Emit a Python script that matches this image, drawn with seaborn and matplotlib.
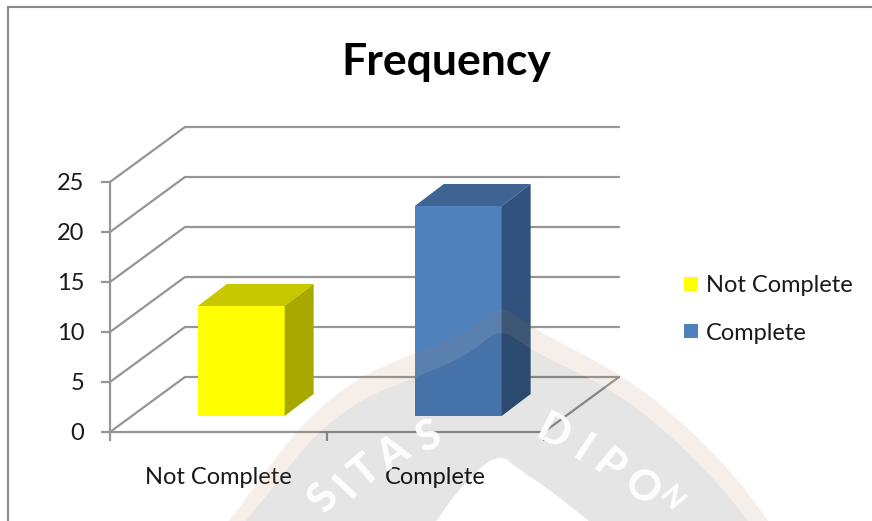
import numpy as np
import pandas as pd
import matplotlib
matplotlib.use("Agg")
import matplotlib.pyplot as plt
from matplotlib.patches import Polygon
import seaborn as sns

# Chart values
categories = ["Not Complete", "Complete"]
frequency = [11, 21]
value_ticks = [0, 5, 10, 15, 20, 25]
front_colors = ["#FFFF00", "#4F81BD"]
top_colors = ["#C8C800", "#3E6492"]
side_colors = ["#A8A800", "#31527C"]
title_text = "Frequency"

W, H = 872, 521
FONT = ["Lato", "DejaVu Sans"]
GRID = "#959595"
TEXT = "#1a1a1a"
LABEL_SIZE = 17

sns.set_style("white")
plt.rcParams["font.family"] = FONT

fig = plt.figure(figsize=(W / 100, H / 100), dpi=100, facecolor="white")


def axes_px(left, top, right, bottom, **kw):
    return fig.add_axes([left / W, 1 - bottom / H, (right - left) / W, (bottom - top) / H], **kw)


# Front plane of the chart box carries the tick marks and labels
front = axes_px(110, 182, 544, 432, zorder=1)
front.patch.set_alpha(0)
front.set_xlim(0, 2)
front.set_ylim(0, 25)
for side in ("top", "right"):
    front.spines[side].set_visible(False)
for side in ("left", "bottom"):
    front.spines[side].set_color(GRID)
    front.spines[side].set_linewidth(1.6)
front.set_yticks(value_ticks)
front.set_xticks([0, 1, 2])
front.set_xticklabels([])
front.set_xticks([0.5, 1.5], labels=categories, minor=True)
front.tick_params(axis="y", length=6.5, width=1.6, color=GRID, pad=12, labelsize=LABEL_SIZE, labelcolor=TEXT, left=True)
front.tick_params(axis="x", which="major", length=6.5, width=1.6, color=GRID, bottom=True)
front.tick_params(axis="x", which="minor", length=0, pad=25.5, labelsize=LABEL_SIZE, labelcolor=TEXT)

# Bars stand on a plane set back from the front of the box
PLANE_LEFT = 132.75
ax = axes_px(PLANE_LEFT, 166, PLANE_LEFT + 434, 416, zorder=2)
ax.patch.set_alpha(0)
df = pd.DataFrame({"status": categories, "frequency": frequency})
sns.barplot(
    data=df, x="status", y="frequency", hue="status", hue_order=categories,
    palette=front_colors, dodge=False, width=0.4, saturation=1, linewidth=0,
    ax=ax, legend=True, zorder=3,
)
ax.set_xlim(-0.5, 1.5)
ax.set_ylim(0, 25)
ax.set_axis_off()

X_UNIT, Y_UNIT = 434 / 2, 10.0
dx_back, dy_back = (185 - PLANE_LEFT) / X_UNIT, 39 / Y_UNIT
dx_front, dy_front = (110 - PLANE_LEFT) / X_UNIT, -16 / Y_UNIT
dx_bar, dy_bar = 29 / X_UNIT, 22 / Y_UNIT

# Side wall and back wall gridlines
for v in value_ticks:
    ax.plot(
        [-0.5 + dx_front, -0.5 + dx_back, 1.5 + dx_back],
        [v + dy_front, v + dy_back, v + dy_back],
        color=GRID, lw=1.6, clip_on=False, zorder=1, solid_joinstyle="miter",
    )
# Right edge of the floor
ax.plot([1.5 + dx_front, 1.5 + dx_back], [dy_front, dy_back], color=GRID, lw=1.6, clip_on=False, zorder=1)

# Extrude each bar into a box
for bar, top_c, side_c in zip(ax.patches, top_colors, side_colors):
    x0, w, h = bar.get_x(), bar.get_width(), bar.get_height()
    x1 = x0 + w
    ax.add_patch(Polygon([(x0, h), (x1, h), (x1 + dx_bar, h + dy_bar), (x0 + dx_bar, h + dy_bar)],
                         closed=True, fc=top_c, ec="none", zorder=3, clip_on=False))
    ax.add_patch(Polygon([(x1, 0), (x1 + dx_bar, dy_bar), (x1 + dx_bar, h + dy_bar), (x1, h)],
                         closed=True, fc=side_c, ec="none", zorder=3, clip_on=False))

sns.move_legend(
    ax, loc="upper left", bbox_to_anchor=(684 / W, 1 - 275 / H), bbox_transform=fig.transFigure,
    title=None, frameon=False, fontsize=LABEL_SIZE, handlelength=0.6, handleheight=0.55,
    handletextpad=0.34, labelspacing=1.13, borderpad=0, borderaxespad=0, labelcolor=TEXT,
)

fig.text(446 / W, 1 - 62 / H, title_text, ha="center", va="center", fontsize=32,
         fontweight="bold", color="black")

# Sheet overlay in pixel coordinates: page rule and faint emblem printed over the chart
over = fig.add_axes([0, 0, 1, 1], zorder=5)
over.patch.set_alpha(0)
over.set_xlim(0, W)
over.set_ylim(H, 0)
over.set_axis_off()
over.plot([8, 8, W], [H, 7, 7], color="#8a8a8a", lw=1.5, solid_joinstyle="miter")


def smooth(points, rounds=3):
    pts = np.asarray(points, float)
    for _ in range(rounds):
        q = 0.75 * pts[:-1] + 0.25 * pts[1:]
        r = 0.25 * pts[:-1] + 0.75 * pts[1:]
        mid = np.empty((2 * len(q), 2))
        mid[0::2], mid[1::2] = q, r
        pts = np.vstack([pts[0], mid, pts[-1]])
    return pts


rim_outer = smooth([(222, 530), (262, 477), (298, 428), (350, 382), (413, 353), (468, 332),
                    (500, 303), (535, 330), (620, 373), (680, 420), (735, 475), (775, 530)])
rim_inner = smooth([(238, 530), (278, 482), (312, 437), (362, 398), (420, 376), (470, 354),
                    (500, 327), (530, 350), (610, 388), (665, 430), (720, 485), (755, 530)])
core = smooth([(430, 530), (458, 490), (497, 452), (520, 470), (550, 490), (600, 530)], rounds=2)

over.add_patch(Polygon(np.vstack([rim_outer, rim_inner[::-1]]), closed=True,
                       fc=(184 / 255, 123 / 255, 70 / 255, 0.114), ec="none"))
over.add_patch(Polygon(np.vstack([rim_inner, core[::-1]]), closed=True,
                       fc=(0, 0, 0, 0.10), ec="none"))

for ch, x, y, rot, size in [("S", 324, 499, 52, 30), ("I", 346, 486, 47, 30), ("T", 365, 472, 40, 30),
                            ("A", 393, 454, 32, 30), ("S", 428, 438, 22, 30), ("D", 553, 433, -27, 30),
                            ("I", 583, 450, -33, 30), ("P", 609, 467, -40, 30), ("O", 641, 488, -46, 30),
                            ("N", 671, 499, -50, 20)]:
    over.text(x, y, ch, ha="center", va="center", rotation=rot, fontsize=size,
              fontweight="black", color="white", alpha=0.95, zorder=1)

fig.savefig("out.png", dpi=100, facecolor="white")
